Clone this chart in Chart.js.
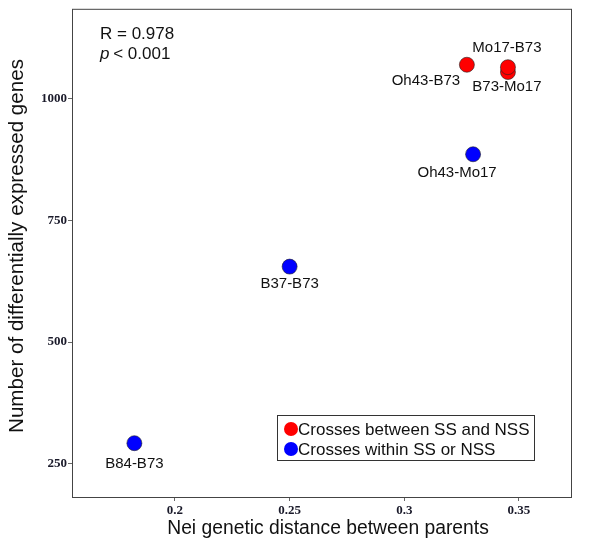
<!DOCTYPE html>
<html>
<head>
<meta charset="utf-8">
<script src="https://cdn.jsdelivr.net/npm/chart.js@4"></script>
<style>
  html, body { margin: 0; padding: 0; background: #fff; }
  #wrap { width: 600px; height: 538px; position: relative; }
</style>
</head>
<body>
<div id="wrap"><canvas id="chart"></canvas></div>
<script>
  // crosses between SS and NSS (red)
  var betweenNames = ['Oh43-B73', 'B73-Mo17', 'Mo17-B73'];
  var betweenDist  = [0.3273, 0.3452, 0.3452];
  var betweenGenes = [1070, 1055, 1065];

  // crosses within SS or NSS (blue)
  var withinNames = ['B84-B73', 'B37-B73', 'Oh43-Mo17'];
  var withinDist  = [0.1823, 0.2500, 0.3300];
  var withinGenes = [292, 655, 886];

  var xTicks = [0.2, 0.25, 0.3, 0.35];
  var yTicks = [250, 500, 750, 1000];

  var legendLabels = ['Crosses between SS and NSS', 'Crosses within SS or NSS'];
  var statLines = ['R = 0.978', 'p < 0.001'];

  // where each point label sits relative to its marker
  var labelPos = {
    'Oh43-B73':  { dx: -41, dy: 16 },
    'B73-Mo17':  { dx: -1,  dy: 15 },
    'Mo17-B73':  { dx: -1,  dy: -19 },
    'B84-B73':   { dx: 0,   dy: 21 },
    'B37-B73':   { dx: 0,   dy: 17 },
    'Oh43-Mo17': { dx: -16, dy: 19 }
  };

  function toPoints(xs, ys, names) {
    return xs.map(function (x, i) { return { x: x, y: ys[i], name: names[i] }; });
  }

  var SANS = '"Liberation Sans", Arial, sans-serif';

  var extras = {
    id: 'extras',
    afterDraw: function (chart) {
      var ctx = chart.ctx;
      var a = chart.chartArea;
      ctx.save();

      // frame round the plot
      ctx.strokeStyle = '#444';
      ctx.lineWidth = 1;
      ctx.strokeRect(a.left + 0.5, a.top + 0.5, a.right - a.left, a.bottom - a.top);

      // point labels
      ctx.fillStyle = '#111';
      ctx.font = '15px ' + SANS;
      ctx.textAlign = 'center';
      ctx.textBaseline = 'middle';
      chart.data.datasets.forEach(function (ds, di) {
        var meta = chart.getDatasetMeta(di);
        meta.data.forEach(function (el, i) {
          var p = labelPos[ds.data[i].name] || { dx: 0, dy: 16 };
          ctx.fillText(ds.data[i].name, el.x + p.dx, el.y + p.dy);
        });
      });

      // R and p
      ctx.textAlign = 'left';
      ctx.font = '17px ' + SANS;
      ctx.fillText(statLines[0], 100, 34);
      ctx.font = 'italic 17px ' + SANS;
      ctx.fillText('p', 100, 54);
      var pw = ctx.measureText('p ').width;
      ctx.font = '17px ' + SANS;
      ctx.fillText(statLines[1].slice(2), 100 + pw - 1, 54);

      // legend box
      var lx = 277, ly = 415, lw = 257, lh = 45;
      ctx.fillStyle = '#fff';
      ctx.fillRect(lx, ly, lw, lh);
      ctx.strokeStyle = '#333';
      ctx.strokeRect(lx + 0.5, ly + 0.5, lw, lh);
      var cols = [chart.data.datasets[0].backgroundColor, chart.data.datasets[1].backgroundColor];
      legendLabels.forEach(function (t, i) {
        var cy = ly + 14 + i * 20;
        ctx.beginPath();
        ctx.arc(lx + 14, cy, 7, 0, Math.PI * 2);
        ctx.fillStyle = cols[i];
        ctx.fill();
        ctx.fillStyle = '#111';
        ctx.font = '17px ' + SANS;
        ctx.textAlign = 'left';
        ctx.fillText(t, lx + 21, cy + 1);
      });

      // axis titles
      ctx.fillStyle = '#111';
      ctx.font = '19.3px ' + SANS;
      ctx.textAlign = 'center';
      ctx.fillText('Nei genetic distance between parents', 328, 529);
      ctx.font = '20.6px ' + SANS;
      ctx.translate(17, 246);
      ctx.rotate(-Math.PI / 2);
      ctx.fillText('Number of differentially expressed genes', 0, 0);

      ctx.restore();
    }
  };

  var tickFont = { family: '"Liberation Serif", "DejaVu Serif", serif', size: 13, weight: 'bold' };

  new Chart(document.getElementById('chart'), {
    type: 'scatter',
    data: {
      datasets: [{
        label: legendLabels[0],
        data: toPoints(betweenDist, betweenGenes, betweenNames),
        backgroundColor: '#ff0000',
        borderColor: '#222',
        borderWidth: 0.6,
        pointRadius: 7.5,
        pointHoverRadius: 7.5
      }, {
        label: legendLabels[1],
        data: toPoints(withinDist, withinGenes, withinNames),
        backgroundColor: '#0000ff',
        borderColor: '#222',
        borderWidth: 0.6,
        pointRadius: 7.5,
        pointHoverRadius: 7.5
      }]
    },
    options: {
      responsive: true,
      maintainAspectRatio: false,
      animation: false,
      layout: { padding: { left: 0, top: 4, right: 29, bottom: 0 } },
      plugins: { legend: { display: false }, tooltip: { enabled: false } },
      scales: {
        x: {
          type: 'linear',
          min: 0.1551,
          max: 0.3727,
          afterFit: function (s) { s.height = 41; },
          afterBuildTicks: function (s) { s.ticks = xTicks.map(function (v) { return { value: v }; }); },
          grid: { display: true, drawOnChartArea: false, drawTicks: true, tickLength: 4, color: '#666' },
          border: { display: false },
          ticks: { color: '#1a1a2a', font: tickFont, padding: 2, callback: function (v) { return String(v); } }
        },
        y: {
          type: 'linear',
          min: 181.4,
          max: 1185,
          afterFit: function (s) { s.width = 72; },
          afterBuildTicks: function (s) { s.ticks = yTicks.map(function (v) { return { value: v }; }); },
          grid: { display: true, drawOnChartArea: false, drawTicks: true, tickLength: 4, color: '#666' },
          border: { display: false },
          ticks: { color: '#1a1a2a', font: tickFont, padding: 1, callback: function (v) { return String(v); } }
        }
      }
    },
    plugins: [extras]
  });
</script>
</body>
</html>
